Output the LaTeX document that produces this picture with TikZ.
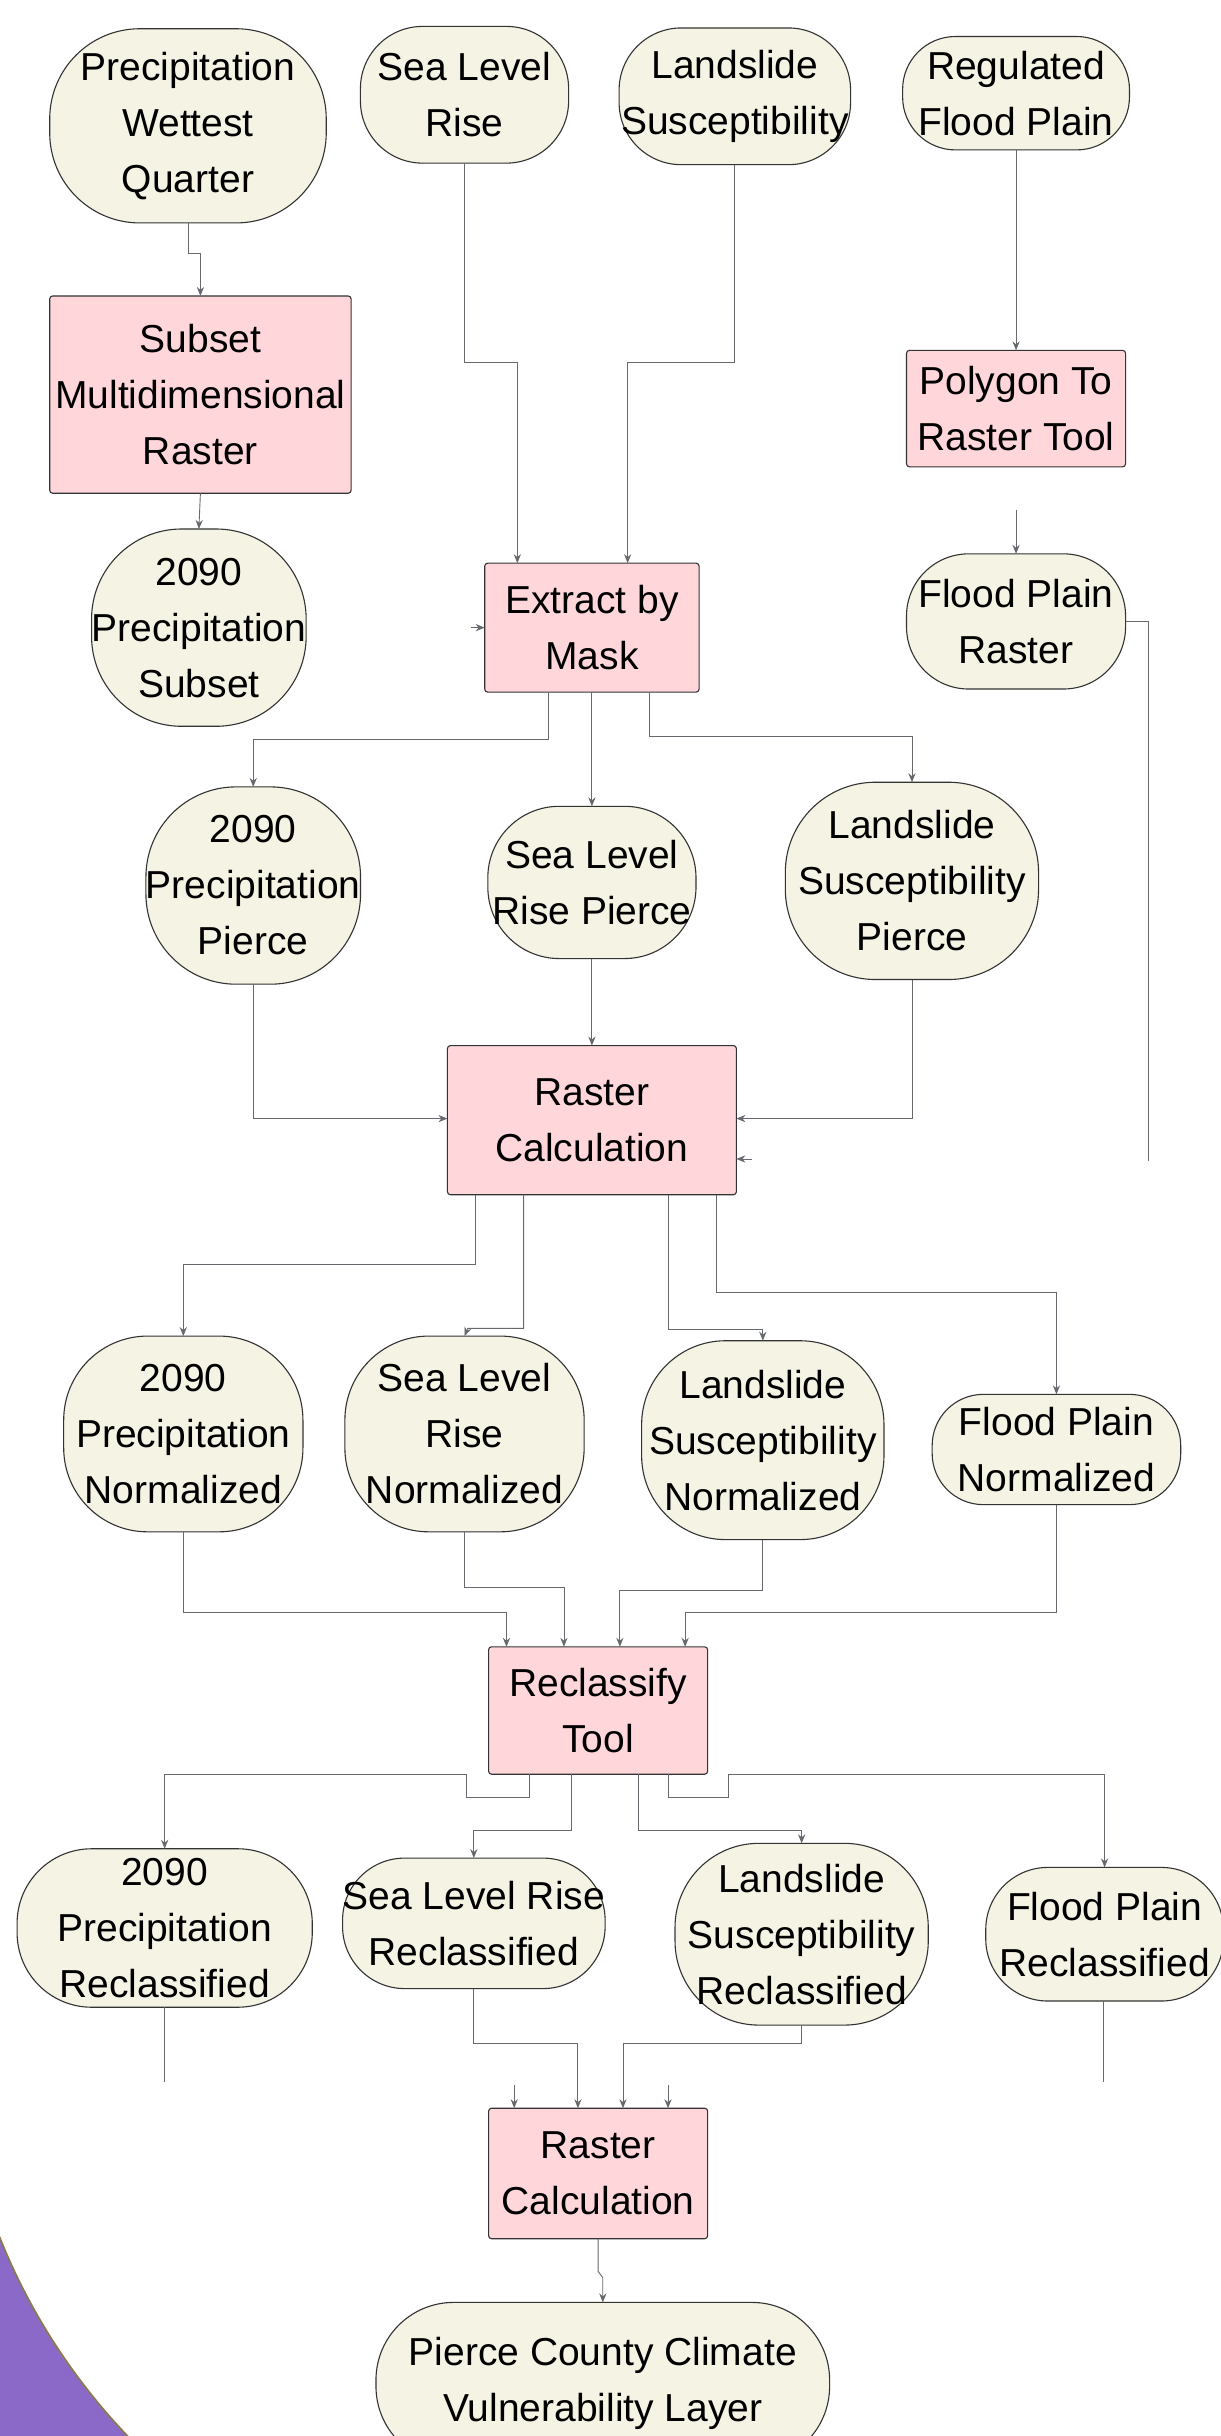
\documentclass[tikz,border=0pt]{standalone}
\usepackage{fontspec}
\setmainfont{Liberation Sans}
\usepackage{tikz}
\usetikzlibrary{arrows.meta}

\newdimen\pxu
\pxu=0.7768pt

\definecolor{datafill}{HTML}{F5F3E3}
\definecolor{toolfill}{HTML}{FFD7DA}
\definecolor{bordercol}{HTML}{333333}
\definecolor{edgecol}{HTML}{66696E}
\definecolor{cornerpurple}{HTML}{8B69C9}
\definecolor{cornerrim}{HTML}{8A7A50}

\begin{document}
\begin{tikzpicture}[x=\pxu, y=-\pxu,
  every node/.style={inner sep=0pt, outer sep=0pt, align=center,
    font=\fontsize{19.5pt}{28pt}\selectfont},
  data/.style={draw=bordercol, fill=datafill, line width=0.55pt},
  tool/.style={draw=bordercol, fill=toolfill, line width=0.55pt, rounded corners=1.5pt},
  edge/.style={draw=edgecol, line width=0.45pt},
  flow/.style={edge, -{Stealth[length=4.5pt,width=3.6pt]}}]
\useasboundingbox[fill=white] (0,0) rectangle (785.3,1568);

% purple corner
\fill[cornerpurple] (372,1291) ++(160:401) arc[start angle=160, end angle=134, radius=401] -- (-5,1580) -- cycle;
\draw[cornerrim, line width=0.9pt] (372,1291) ++(160:401) arc[start angle=160, end angle=134, radius=401];

% inputs
\node[data, minimum width=178\pxu, minimum height=125\pxu, rounded corners=58\pxu] (pwq) at (121,81) {Precipitation\\Wettest\\Quarter};
\node[data, minimum width=134\pxu, minimum height=88\pxu, rounded corners=40\pxu] (slr) at (299,61) {Sea Level\\Rise};
\node[data, minimum width=149\pxu, minimum height=88\pxu, rounded corners=40\pxu] (ls) at (473,62) {Landslide\\Susceptibility};
\node[data, minimum width=146\pxu, minimum height=73\pxu, rounded corners=34\pxu] (rfp) at (654,60) {Regulated\\Flood Plain};

% first tools
\node[tool, minimum width=194\pxu, minimum height=127\pxu] (subset) at (129,254) {Subset\\Multidimensional\\Raster};
\node[tool, minimum width=141\pxu, minimum height=75\pxu] (ptor) at (654,263) {Polygon To\\Raster Tool};
\node[data, minimum width=135\pxu, minimum height=127\pxu, rounded corners=58\pxu] (psub) at (128,404) {2090\\Precipitation\\Subset};
\node[tool, minimum width=138\pxu, minimum height=83\pxu] (mask) at (381,404) {Extract by\\Mask};
\node[data, minimum width=141\pxu, minimum height=87\pxu, rounded corners=40\pxu] (fpr) at (654,400) {Flood Plain\\Raster};

% pierce layers
\node[data, minimum width=135\pxu, minimum height=127\pxu, rounded corners=58\pxu] (ppierce) at (163,570) {2090\\Precipitation\\Pierce};
\node[data, minimum width=134\pxu, minimum height=98\pxu, rounded corners=46\pxu] (spierce) at (381,568) {Sea Level\\Rise Pierce};
\node[data, minimum width=163\pxu, minimum height=127\pxu, rounded corners=58\pxu] (lpierce) at (587,567) {Landslide\\Susceptibility\\Pierce};
\node[tool, minimum width=186\pxu, minimum height=96\pxu] (calc) at (381,721) {Raster\\Calculation};

% normalized
\node[data, minimum width=154\pxu, minimum height=126\pxu, rounded corners=54\pxu] (pnorm) at (118,923) {2090\\Precipitation\\Normalized};
\node[data, minimum width=154\pxu, minimum height=126\pxu, rounded corners=54\pxu] (snorm) at (299,923) {Sea Level\\Rise\\Normalized};
\node[data, minimum width=156\pxu, minimum height=128\pxu, rounded corners=54\pxu] (lnorm) at (491,927) {Landslide\\Susceptibility\\Normalized};
\node[data, minimum width=160\pxu, minimum height=71\pxu, rounded corners=33\pxu] (fnorm) at (680,933) {Flood Plain\\Normalized};
\node[tool, minimum width=141\pxu, minimum height=82\pxu] (reclass) at (385,1101) {Reclassify\\Tool};

% reclassified
\node[data, minimum width=190\pxu, minimum height=102\pxu, rounded corners=48\pxu] (precl) at (106,1241) {2090\\Precipitation\\Reclassified};
\node[data, minimum width=169\pxu, minimum height=84\pxu, rounded corners=40\pxu] (srecl) at (305,1238) {Sea Level Rise\\Reclassified};
\node[data, minimum width=163\pxu, minimum height=117\pxu, rounded corners=54\pxu] (lrecl) at (516,1245) {Landslide\\Susceptibility\\Reclassified};
\node[data, minimum width=153\pxu, minimum height=86\pxu, rounded corners=40\pxu] (frecl) at (711,1245) {Flood Plain\\Reclassified};
\node[tool, minimum width=141\pxu, minimum height=84\pxu] (calcb) at (385,1399) {Raster\\Calculation};
\node[data, minimum width=292\pxu, minimum height=104\pxu, rounded corners=50\pxu] (pccvl) at (388,1534) {Pierce County Climate\\Vulnerability Layer};

% loose ends
\coordinate (fprend) at (739,747);
\coordinate (preclend) at (106,1340);
\coordinate (freclend) at (710,1340);

% connectors
\draw[flow] (pwq.south) -- (121,163) -- (129,163) -- (subset.north -| 129,0);
\draw[flow] (subset.south) -- (psub.north);
\draw[flow] (slr.south) -- (299,233) -- (333,233) -- (mask.north -| 333,0);
\draw[flow] (ls.south) -- (473,233) -- (404,233) -- (mask.north -| 404,0);
\draw[flow] (303,404) -- (mask.west);
\draw[flow] (rfp.south) -- (ptor.north);
\draw[flow] (654,328) -- (fpr.north);
\draw[edge] (fpr.east) -- (739,400) -- (fprend);
\draw[flow] (484,746) -- (calc.east |- 0,746);

\draw[flow] (mask.south -| 353,0) -- (353,476) -- (163,476) -- (ppierce.north);
\draw[flow] (mask.south) -- (spierce.north);
\draw[flow] (mask.south -| 418,0) -- (418,474) -- (587,474) -- (lpierce.north);
\draw[flow] (ppierce.south) -- (163,720) -- (calc.west |- 0,720);
\draw[flow] (spierce.south) -- (calc.north);
\draw[flow] (lpierce.south) -- (587,720) -- (calc.east |- 0,720);

\draw[flow] (calc.south -| 306,0) -- (306,814) -- (118,814) -- (pnorm.north);
\draw[flow] (calc.south -| 337,0) -- (337,855) -- (301,855) -- (snorm.north);
\draw[flow] (calc.south -| 430,0) -- (430,856) -- (491,856) -- (lnorm.north);
\draw[flow] (calc.south -| 461,0) -- (461,832) -- (680,832) -- (fnorm.north);

\draw[flow] (pnorm.south) -- (118,1038) -- (326,1038) -- (reclass.north -| 326,0);
\draw[flow] (snorm.south) -- (299,1022) -- (363,1022) -- (reclass.north -| 363,0);
\draw[flow] (lnorm.south) -- (491,1024) -- (399,1024) -- (reclass.north -| 399,0);
\draw[flow] (fnorm.south) -- (680,1038) -- (441,1038) -- (reclass.north -| 441,0);

\draw[flow] (reclass.south -| 341,0) -- (341,1157) -- (300,1157) -- (300,1142) -- (106,1142) -- (precl.north);
\draw[flow] (reclass.south -| 368,0) -- (368,1178) -- (305,1178) -- (srecl.north);
\draw[flow] (reclass.south -| 411,0) -- (411,1178) -- (516,1178) -- (lrecl.north);
\draw[flow] (reclass.south -| 430,0) -- (430,1157) -- (469,1157) -- (469,1142) -- (711,1142) -- (frecl.north);

\draw[edge] (precl.south) -- (preclend);
\draw[flow] (331,1342) -- (calcb.north -| 331,0);
\draw[flow] (srecl.south) -- (305,1315) -- (372,1315) -- (calcb.north -| 372,0);
\draw[flow] (lrecl.south) -- (516,1315) -- (401,1315) -- (calcb.north -| 401,0);
\draw[edge] (frecl.south -| 710,0) -- (freclend);
\draw[flow] (430,1342) -- (calcb.north -| 430,0);
\draw[flow] (calcb.south) -- (385,1462) -- (388,1466) -- (pccvl.north);
\end{tikzpicture}
\end{document}
